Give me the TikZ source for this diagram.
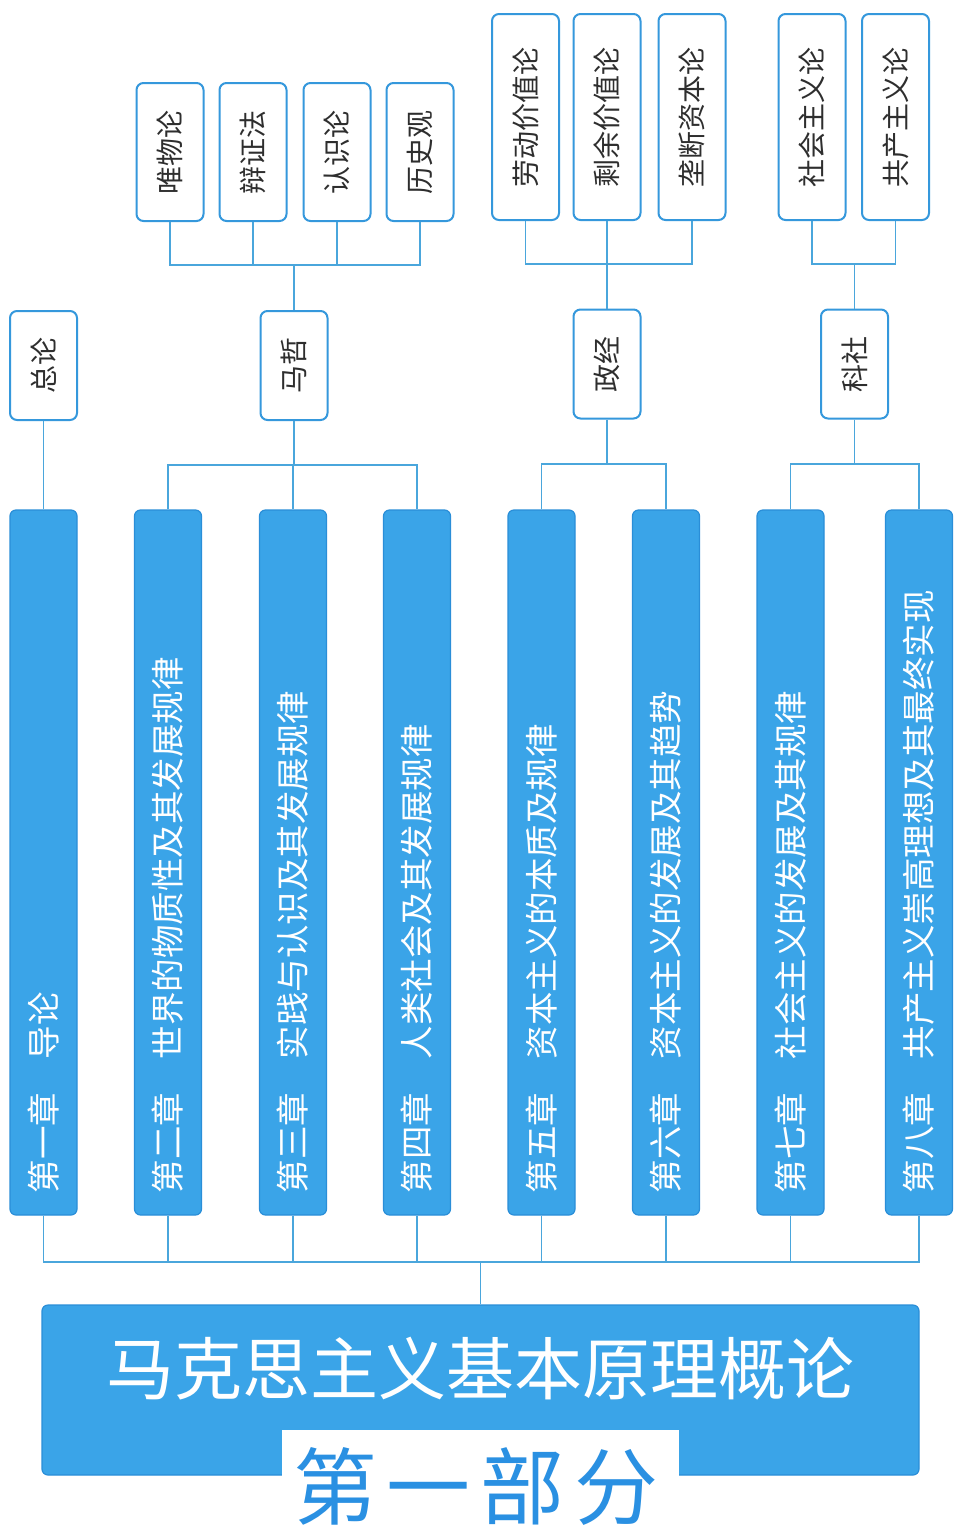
\documentclass[tikz,border=0pt]{standalone}
\usepackage{fontspec}
\setmainfont{Noto Sans CJK SC}
\usepackage{tikz}
\usetikzlibrary{positioning,calc}

\definecolor{chapblue}{HTML}{3AA4E8}
\definecolor{chapedge}{HTML}{2A8ED8}
\definecolor{nodeedge}{HTML}{3598DC}
\definecolor{lineblue}{HTML}{4AA6DC}
\definecolor{textgray}{HTML}{2E2E2E}
\definecolor{partblue}{HTML}{2A90E2}

\begin{document}
\begin{tikzpicture}[x=1pt,y=-1pt,
    link/.style={draw=lineblue,line width=1.3pt},
    chapter/.style={rotate=90,draw=chapedge,line width=1.2pt,fill=chapblue,rounded corners=6pt,
        text=white,minimum height=67pt,inner xsep=22pt,inner ysep=2pt,text width=661pt,align=left,
        font=\fontsize{33.5}{38}\selectfont},
    topic/.style={rotate=90,draw=nodeedge,line width=2pt,fill=white,rounded corners=7pt,
        text=textgray,minimum height=67pt,minimum width=109pt,inner sep=2pt,
        font=\fontsize{28}{32}\selectfont},
    leaf/.style={topic,minimum width=138pt},
    longleaf/.style={topic,minimum width=206pt}]
            \useasboundingbox (0,0) rectangle (954,1532);
            \fill[white] (0,0) rectangle (954,1532);

            % leaves
            \node[leaf] (weiwu) at (170,152) {唯物论};
            \node[leaf] (bianzheng) at (253,152) {辩证法};
            \node[leaf] (renshi) at (337,152) {认识论};
            \node[leaf] (lishi) at (420,152) {历史观};
            \node[longleaf] (laodong) at (525.5,117) {劳动价值论};
            \node[longleaf] (shengyu) at (607,117) {剩余价值论};
            \node[longleaf] (longduan) at (692,117) {垄断资本论};
            \node[longleaf] (shehui) at (812,117) {社会主义论};
            \node[longleaf] (gongchan) at (895.5,117) {共产主义论};

            % subjects
            \node[topic] (zonglun) at (43.5,365.5) {总论};
            \node[topic] (mazhe) at (294,365.5) {马哲};
            \node[topic] (zhengjing) at (607,364) {政经};
            \node[topic] (keshe) at (854.5,364) {科社};

            % chapters
            \node[chapter] (ch1) at (43.5,862.5) {第一章　导论};
            \node[chapter] (ch2) at (168,862.5) {第二章　世界的物质性及其发展规律};
            \node[chapter] (ch3) at (293,862.5) {第三章　实践与认识及其发展规律};
            \node[chapter] (ch4) at (417,862.5) {第四章　人类社会及其发展规律};
            \node[chapter] (ch5) at (541.5,862.5) {第五章　资本主义的本质及规律};
            \node[chapter] (ch6) at (666,862.5) {第六章　资本主义的发展及其趋势};
            \node[chapter] (ch7) at (790.5,862.5) {第七章　社会主义的发展及其规律};
            \node[chapter] (ch8) at (919,862.5) {第八章　共产主义崇高理想及其最终实现};

            % title block
            \node[draw=chapedge,line width=1.2pt,fill=chapblue,rounded corners=6pt,
                minimum width=877pt,minimum height=170pt] (mainbox) at (480.5,1390) {};
            \node[fill=white,inner sep=0pt,minimum width=397pt,minimum height=104pt] (partbox) at (480.5,1482) {};
            \node[text=white,font=\fontsize{68}{72}\selectfont] (title) at (480.5,1369) {马克思主义基本原理概论};
            \node[text=partblue,font=\fontsize{84}{90}\selectfont] (part) at (476,1486)
                {第\hspace{10pt}一\hspace{10pt}部\hspace{10pt}分};

            % upper brackets
            \coordinate (mzUp) at (294,265);
            \coordinate (zjUp) at (607,264);
            \coordinate (ksUp) at (854.5,264);
            \draw[link] (weiwu) |- (mzUp) -| (lishi);
            \draw[link] (bianzheng) -- (bianzheng |- mzUp);
            \draw[link] (renshi) -- (renshi |- mzUp);
            \draw[link] (mazhe) -- (mzUp);
            \draw[link] (laodong) |- (zjUp) -| (longduan);
            \draw[link] (shengyu) -- (zhengjing);
            \draw[link] (shehui) |- (ksUp) -| (gongchan);
            \draw[link] (keshe) -- (ksUp);

            % middle brackets
            \coordinate (mzDown) at (294,465);
            \coordinate (zjDown) at (607,464);
            \coordinate (ksDown) at (854.5,464);
            \draw[link] (zonglun) -- (ch1);
            \draw[link] (mazhe) -- (mzDown);
            \draw[link] (ch2) |- (mzDown) -| (ch4);
            \draw[link] (ch3) -- (ch3 |- mzDown);
            \draw[link] (zhengjing) -- (zjDown);
            \draw[link] (ch5) |- (zjDown) -| (ch6);
            \draw[link] (keshe) -- (ksDown);
            \draw[link] (ch7) |- (ksDown) -| (ch8);

            % root bracket
            \coordinate (root) at (480.5,1262);
            \draw[link] (ch1) |- (root) -| (ch8);
            \draw[link] (ch2) -- (ch2 |- root);
            \draw[link] (ch3) -- (ch3 |- root);
            \draw[link] (ch4) -- (ch4 |- root);
            \draw[link] (ch5) -- (ch5 |- root);
            \draw[link] (ch6) -- (ch6 |- root);
            \draw[link] (ch7) -- (ch7 |- root);
            \draw[link] (mainbox) -- (root);
        \end{tikzpicture}
\end{document}
